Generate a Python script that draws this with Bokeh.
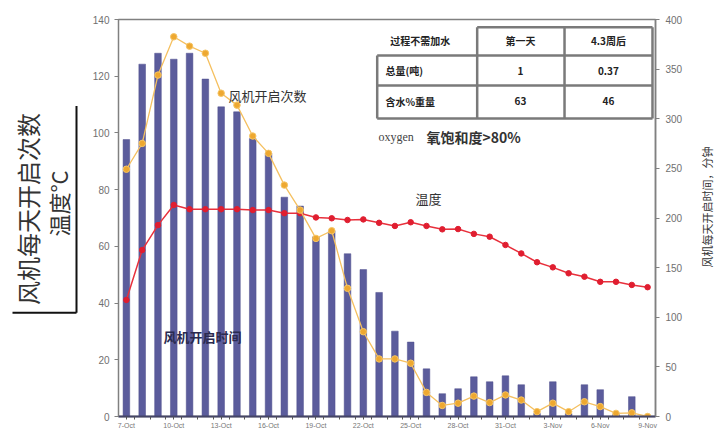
import math
from bokeh.plotting import figure
from bokeh.models import Range1d, LinearAxis, FixedTicker, Label
from bokeh.layouts import row
from bokeh.embed import file_html
from bokeh.resources import INLINE

# ---------------- data ----------------
dates = ["7-Oct", "8-Oct", "9-Oct", "10-Oct", "11-Oct", "12-Oct", "13-Oct", "14-Oct",
         "15-Oct", "16-Oct", "17-Oct", "18-Oct", "19-Oct", "20-Oct", "21-Oct", "22-Oct",
         "23-Oct", "24-Oct", "25-Oct", "26-Oct", "27-Oct", "28-Oct", "29-Oct", "30-Oct",
         "31-Oct", "1-Nov", "2-Nov", "3-Nov", "4-Nov", "5-Nov", "6-Nov", "7-Nov",
         "8-Nov", "9-Nov"]
tick_labels = ["7-Oct", "10-Oct", "13-Oct", "16-Oct", "19-Oct", "22-Oct",
               "25-Oct", "28-Oct", "31-Oct", "3-Nov", "6-Nov", "9-Nov"]

# fan running time per day, minutes (bars, right axis)
fan_time = [279, 355, 366, 360, 366, 340, 312, 307, 280, 265, 221, 212, 181, 187,
            164, 148, 125, 86, 75, 48, 23, 28, 40, 35, 41, 32, 3, 35, 3, 32, 27, 2, 20, 0]
# fan switch-on count per day (orange line, left axis)
fan_count = [87.2, 96.3, 120.4, 133.9, 130.6, 128.1, 114.0, 109.8, 98.9, 92.8, 81.6,
             72.8, 62.8, 65.5, 45.2, 29.9, 20.3, 20.3, 18.8, 8.5, 3.9, 4.7, 7.2, 4.9,
             7.6, 5.8, 1.7, 4.7, 1.7, 5.2, 3.5, 1.1, 1.3, 0.0]
# temperature, deg C (red line, left axis)
temperature = [41.1, 58.7, 67.5, 74.6, 73.1, 73.1, 73.1, 73.1, 72.8, 72.8, 71.7, 71.7,
               70.2, 69.9, 69.3, 69.5, 68.3, 67.2, 68.5, 67.2, 66.0, 66.1, 64.4, 63.4,
               60.5, 57.5, 54.4, 52.6, 50.5, 49.3, 47.5, 47.5, 46.4, 45.6]

table_rows = [["过程不需加水", "第一天", "4.3周后"],
              ["总量(吨)", "1", "0.37"],
              ["含水%重量", "63", "46"]]

left_ticks = [0, 20, 40, 60, 80, 100, 120, 140]
right_ticks = [0, 50, 100, 150, 200, 250, 300, 350, 400]

idx = list(range(len(dates)))
tick_pos = [dates.index(t) for t in tick_labels]

CJK = "Noto Sans CJK SC"
TXT = "#333333"
GRAY = "#808080"


def panel(w):
    f = figure(width=w, height=436, x_range=Range1d(0, w), y_range=Range1d(0, 436),
               output_backend="svg", toolbar_location=None, min_border=0)
    f.axis.visible = False
    f.grid.visible = False
    f.outline_line_color = None
    return f


# ---------------- left title panel ----------------
lp = panel(84)
lp.add_layout(Label(x=27, y=228, text="风机每天开启次数", angle=math.pi / 2,
                    text_align="center", text_baseline="middle", text_font=CJK,
                    text_font_size="24px", text_color=TXT))
lp.add_layout(Label(x=57, y=234, text="温度°C", angle=math.pi / 2,
                    text_align="center", text_baseline="middle", text_font=CJK,
                    text_font_size="22px", text_color=TXT))
lp.segment(x0=[76, 12], y0=[341, 114], x1=[76, 76], y1=[114, 114],
           line_color="#111111", line_width=2)

# ---------------- right title panel ----------------
rp = panel(20)
rp.add_layout(Label(x=9, y=230, text="风机每天开启时间，分钟", angle=math.pi / 2,
                    text_align="center", text_baseline="middle", text_font=CJK,
                    text_font_size="11px", text_color=TXT))

# ---------------- main chart ----------------
p = figure(width=613, height=436, x_range=Range1d(-0.5, 33.5), y_range=Range1d(0, 140),
           output_backend="svg", toolbar_location=None,
           min_border_left=34, min_border_right=42, min_border_top=19, min_border_bottom=20)
p.grid.visible = False
p.outline_line_color = GRAY
p.outline_line_width = 1.5
p.extra_y_ranges = {"minutes": Range1d(0, 400)}

p.vbar(x=idx, top=fan_time, width=0.42, y_range_name="minutes",
       fill_color="#5b5c9c", line_color="#4e4f8c", line_width=0.5)

p.line(idx, temperature, line_color="#e8303c", line_width=1.5)
p.scatter(idx, temperature, marker="circle", size=5.5, fill_color="#e01e30",
          line_color="#e01e30")

p.line(idx, fan_count, line_color="#f5c060", line_width=1.3)
p.scatter(idx, fan_count, marker="circle", size=6.5, fill_color="#eea830",
          line_color="#f5c565")

# axes
xa = p.xaxis[0]
xa.ticker = FixedTicker(ticks=tick_pos, minor_ticks=[i + 0.5 for i in idx[:-1]])
xa.major_label_overrides = {pos: lab for pos, lab in zip(tick_pos, tick_labels)}
xa.major_label_text_font = "Liberation Sans"
xa.major_label_text_font_size = "7px"
xa.major_label_text_color = "#777777"
xa.major_label_standoff = 2
xa.major_tick_out = 3
xa.major_tick_in = 0
xa.minor_tick_out = 3
xa.minor_tick_in = 0
xa.axis_line_color = "#444466"
xa.axis_line_width = 2
xa.major_tick_line_color = "#555555"
xa.minor_tick_line_color = "#555555"

ya = p.yaxis[0]
ya.ticker = FixedTicker(ticks=left_ticks, minor_ticks=[])
ya.major_label_text_font = "Liberation Sans"
ya.major_label_text_font_size = "10px"
ya.major_label_text_color = "#707070"
ya.major_tick_out = 4
ya.major_tick_in = 0
ya.major_label_standoff = 5
ya.axis_line_color = GRAY
ya.major_tick_line_color = GRAY

ra = LinearAxis(y_range_name="minutes", ticker=FixedTicker(ticks=right_ticks, minor_ticks=[]))
ra.major_label_text_font = "Liberation Sans"
ra.major_label_text_font_size = "10px"
ra.major_label_text_color = "#707070"
ra.major_tick_out = 4
ra.major_tick_in = 0
ra.major_label_standoff = 6
ra.axis_line_color = GRAY
ra.axis_line_width = 1.5
ra.major_tick_line_color = GRAY
p.add_layout(ra, "right")

# series annotations
p.add_layout(Label(x=6.46, y=113.2, text="风机开启次数", text_align="left",
                   text_baseline="middle", text_font=CJK, text_font_size="13px",
                   text_color=TXT))
p.add_layout(Label(x=18.3, y=76.9, text="温度", text_align="left",
                   text_baseline="middle", text_font=CJK, text_font_size="13px",
                   text_color=TXT))
p.add_layout(Label(x=2.35, y=28.2, text="风机开启时间", text_align="left",
                   text_baseline="middle", text_font=CJK, text_font_size="13px",
                   text_color="#2a2a50", text_font_style="bold"))

# table (drawn as annotation lines)
tx = [15.88, 22.21, 27.74, 33.31]
ty = [137.3, 127.3, 116.7, 105.1]
seg_x0 = [tx[1], tx[0], tx[0], tx[0], tx[0], tx[1], tx[2], tx[3]]
seg_x1 = [tx[3], tx[3], tx[3], tx[3], tx[0], tx[1], tx[2], tx[3]]
seg_y0 = [ty[0], ty[1], ty[2], ty[3], ty[1], ty[0], ty[0], ty[0]]
seg_y1 = [ty[0], ty[1], ty[2], ty[3], ty[3], ty[3], ty[3], ty[3]]
p.segment(x0=seg_x0, y0=seg_y0, x1=seg_x1, y1=seg_y1, line_color="#7a7a7a", line_width=2.5)

row_y = [132.6, 122.0, 111.1]
col_cx = [18.6, 24.95, 30.52]
for r, cells in enumerate(table_rows):
    for c, txt in enumerate(cells):
        if c == 0 and r > 0:
            lab = Label(x=16.4, y=row_y[r], text=txt, text_align="left")
        else:
            lab = Label(x=col_cx[c], y=row_y[r], text=txt, text_align="center")
        lab.text_baseline = "middle"
        lab.text_font = CJK
        lab.text_font_size = "10px"
        lab.text_font_style = "bold"
        lab.text_color = "#222222"
        p.add_layout(lab)

p.add_layout(Label(x=15.96, y=98.4, text="oxygen", text_align="left",
                   text_baseline="middle", text_font="Liberation Serif",
                   text_font_size="12px", text_color="#444444"))
p.add_layout(Label(x=19.0, y=98.4, text="氧饱和度>80%", text_align="left",
                   text_baseline="middle", text_font=CJK, text_font_size="14px",
                   text_color="#333333", text_font_style="bold"))

layout = row(lp, p, rp)
open("out.html", "w").write(file_html(layout, INLINE))
